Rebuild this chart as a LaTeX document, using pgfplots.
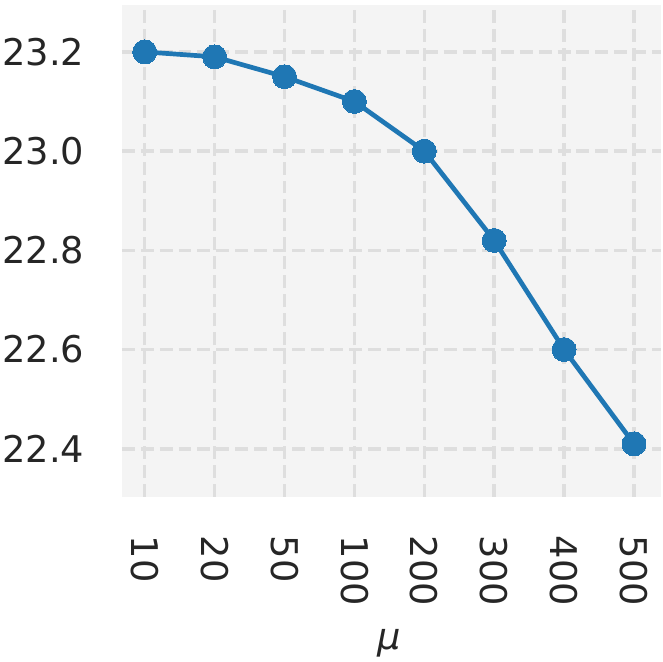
\documentclass[border=0pt]{standalone}
\usepackage{pgfplots}
\pgfplotsset{compat=1.18}
\usepackage{fontspec}
\setmainfont{DejaVu Sans}

\definecolor{tabblue}{HTML}{1F77B4}
\definecolor{panel}{HTML}{F4F4F4}
\definecolor{gridc}{HTML}{DEDEDE}
\definecolor{txt}{HTML}{262626}

\begin{document}
\begin{tikzpicture}
\begin{axis}[
    scale only axis,
    width=270.5bp, height=246.5bp,
    xmin=-0.33, xmax=7.39,
    ymin=22.3035, ymax=23.2945,
    axis background/.style={fill=panel},
    axis line style={draw=none},
    major tick length=0pt,
    xtick={0,1,2,3,4,5,6,7},
    xticklabels={10,20,50,100,200,300,400,500},
    ytick={22.4,22.6,22.8,23.0,23.2},
    yticklabel style={/pgf/number format/fixed, /pgf/number format/fixed zerofill,
        /pgf/number format/precision=1, inner sep=0pt, anchor=east, xshift=-18.5bp},
    xticklabel style={inner sep=0pt, yshift=-19.5bp, rotate=-90, anchor=west},
    ticklabel style={font=\fontsize{18.5}{22}\selectfont, text=txt},
    /pgf/number format/assume math mode=true,
    grid=major,
    major grid style={gridc, line width=1.75bp, dash pattern=on 6.5bp off 3bp},
    xlabel={\textit{μ}},
    xlabel style={font=\fontsize{18.5}{22}\selectfont, text=txt, inner sep=0pt,
        at={(axis description cs:0.495,0)}, anchor=base, yshift=-76.5bp},
]
\addplot[color=tabblue, line width=2.35bp, mark=*, mark size=6bp,
    mark options={fill=tabblue, draw=tabblue, line width=0pt}]
    coordinates {
    (0,23.20)
    (1,23.19)
    (2,23.15)
    (3,23.10)
    (4,23.00)
    (5,22.82)
    (6,22.60)
    (7,22.41)
    };
\end{axis}
\path[use as bounding box] ([xshift=-61bp,yshift=-82.5bp]current axis.south west) rectangle ++(331.5bp,331.5bp);
\end{tikzpicture}
\end{document}
